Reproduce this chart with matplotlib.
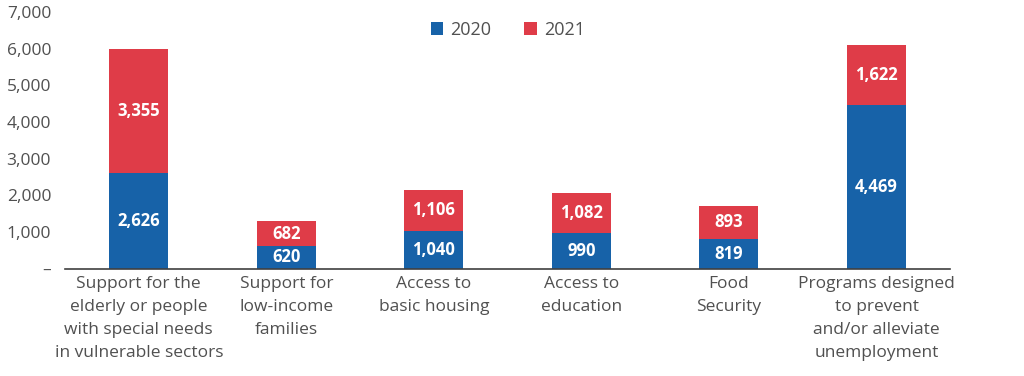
import matplotlib.pyplot as plt
from matplotlib.ticker import FuncFormatter

plt.rcParams['font.family'] = ['Open Sans', 'DejaVu Sans']

categories = ['Support for the\nelderly or people\nwith special needs\nin vulnerable sectors',
              'Support for\nlow-income\nfamilies',
              'Access to\nbasic housing',
              'Access to\neducation',
              'Food\nSecurity',
              'Programs designed\nto prevent\nand/or alleviate\nunemployment']
y2020 = [2626, 620, 1040, 990, 819, 4469]
y2021 = [3355, 682, 1106, 1082, 893, 1622]

blue = '#1762a8'
red = '#df3c48'
grey = '#505050'

fig = plt.figure(figsize=(10.24, 3.76), dpi=100)
ax = fig.add_axes([0.0635, 0.285, 0.8645, 0.683])

x = range(len(categories))
b1 = ax.bar(x, y2020, width=0.4, color=blue, label='2020')
b2 = ax.bar(x, y2021, width=0.4, bottom=y2020, color=red, label='2021')

for bars, vals, base in [(b1, y2020, [0] * 6), (b2, y2021, y2020)]:
    for b, v, s in zip(bars, vals, base):
        ax.text(b.get_x() + b.get_width() / 2, s + v / 2, f'{v:,}',
                ha='center', va='center', color='white', fontsize=12, fontweight='bold')

ax.set_xlim(-0.5, 5.5)
ax.set_ylim(0, 7000)
ax.set_yticks(range(0, 7001, 1000))
ax.yaxis.set_major_formatter(FuncFormatter(lambda v, p: '–' if v == 0 else f'{int(v):,}'))
ax.set_xticks(list(x))
ax.set_xticklabels(categories, fontsize=12.5, color=grey, linespacing=1.6)
ax.tick_params(axis='y', labelsize=12.5, labelcolor=grey, length=0, pad=10)
ax.tick_params(axis='x', length=0, pad=5)

for s in ['top', 'right', 'left']:
    ax.spines[s].set_visible(False)
ax.spines['bottom'].set_color('#404040')
ax.spines['bottom'].set_linewidth(1.2)

ax.legend(loc='upper center', bbox_to_anchor=(0.5, 1.03), ncol=2, frameon=False,
          fontsize=13, handlelength=0.7, handleheight=0.7, columnspacing=1.8,
          handletextpad=0.4, labelcolor=grey)

fig.savefig('out.png', dpi=100)
